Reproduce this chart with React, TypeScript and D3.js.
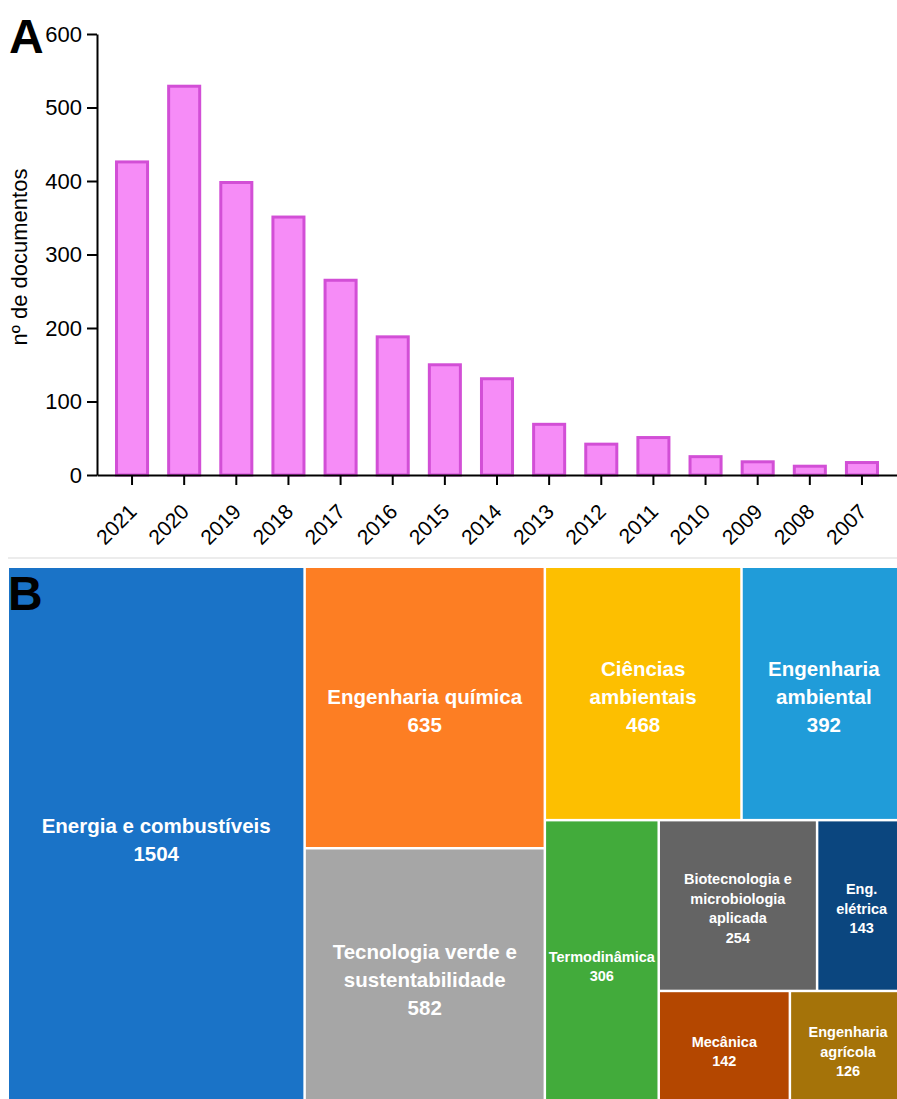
import React, { useEffect, useRef } from "react";
import * as d3 from "d3";

// A: documents per year
const years = ["2021", "2020", "2019", "2018", "2017", "2016", "2015", "2014", "2013", "2012", "2011", "2010", "2009", "2008", "2007"];
const docCounts = [428, 531, 400, 353, 267, 190, 152, 133, 71, 44, 53, 27, 20, 14, 19];
const yTicks = [0, 100, 200, 300, 400, 500, 600];

// B: documents per subject area
const areaNames = [
  "Energia e combustíveis",
  "Engenharia química",
  "Tecnologia verde e sustentabilidade",
  "Ciências ambientais",
  "Engenharia ambiental",
  "Termodinâmica",
  "Biotecnologia e microbiologia aplicada",
  "Eng. elétrica",
  "Mecânica",
  "Engenharia agrícola",
];
const areaDocs = [1504, 635, 582, 468, 392, 306, 254, 143, 142, 126];
const areaLabelLines = [
  ["Energia e combustíveis"],
  ["Engenharia química"],
  ["Tecnologia verde e", "sustentabilidade"],
  ["Ciências", "ambientais"],
  ["Engenharia", "ambiental"],
  ["Termodinâmica"],
  ["Biotecnologia e", "microbiologia", "aplicada"],
  ["Eng.", "elétrica"],
  ["Mecânica"],
  ["Engenharia", "agrícola"],
];
const areaColors = ["#1a73c7", "#fd7e23", "#a6a6a6", "#fdbf00", "#209cd9", "#42ab3b", "#646464", "#0b467f", "#b44700", "#a57309"];
// how the blocks are nested (indexes into areaNames)
const areaGroups: any = [0, [1, 2], [[3, 4], [5, [[6, 7], [8, 9]]]]];

const App = () => {
  const svgRef = useRef<SVGSVGElement>(null);

  useEffect(() => {
    const svg = d3.select(svgRef.current);
    svg.selectAll("*").remove();
    const font = "'Liberation Sans', Arial, Helvetica, sans-serif";

    // ---- A: bar chart
    const x = d3.scaleBand().domain(years).range([97, 897]).paddingInner(0.347).paddingOuter(0.3455);
    const y = d3.scaleLinear().domain([0, 600]).range([475, 34]);

    svg
      .append("g")
      .selectAll("rect")
      .data(years)
      .join("rect")
      .attr("x", (d) => (x(d) as number) + 1.5)
      .attr("y", (d, i) => y(docCounts[i]) + 1.5)
      .attr("width", x.bandwidth() - 3)
      .attr("height", (d, i) => y(0) - y(docCounts[i]) - 1.5)
      .attr("fill", "#f68cf7")
      .attr("stroke", "#d24fd6")
      .attr("stroke-width", 3);

    const yAxis = svg
      .append("g")
      .attr("transform", "translate(97,0)")
      .call(d3.axisLeft(y).tickValues(yTicks).tickSize(10).tickSizeOuter(0).tickPadding(5))
      .attr("font-size", 22)
      .attr("font-family", font);
    yAxis.select(".domain").attr("stroke-width", 2);
    yAxis.selectAll(".tick line").attr("stroke-width", 2);
    yAxis.selectAll("text").attr("fill", "#000");

    const xAxis = svg
      .append("g")
      .attr("transform", "translate(0,475)")
      .call(d3.axisBottom(x).tickSize(10).tickSizeOuter(0))
      .attr("font-size", 21)
      .attr("font-family", font);
    xAxis.select(".domain").attr("stroke-width", 2);
    xAxis.selectAll(".tick line").attr("stroke-width", 2);
    xAxis
      .selectAll("text")
      .attr("fill", "#000")
      .attr("x", 0)
      .attr("y", 0)
      .attr("dy", 0)
      .attr("text-anchor", "end")
      .attr("transform", "translate(6,38) rotate(-45)");

    svg
      .append("text")
      .attr("transform", "translate(27,257) rotate(-90)")
      .attr("text-anchor", "middle")
      .attr("font-family", font)
      .attr("font-size", 22)
      .text("nº de documentos");

    svg
      .append("text")
      .attr("x", 9)
      .attr("y", 53)
      .attr("font-family", font)
      .attr("font-weight", "bold")
      .attr("font-size", 48)
      .text("A");

    // separator between panels
    svg.append("line").attr("x1", 8).attr("x2", 897).attr("y1", 558).attr("y2", 558).attr("stroke", "#ececec").attr("stroke-width", 2);

    // ---- B: treemap
    const toNode = (g: any): any =>
      Array.isArray(g) ? { children: g.map(toNode) } : { index: g, value: areaDocs[g] };
    const root = d3.hierarchy(toNode(areaGroups)).sum((d: any) => d.value ?? 0);
    d3
      .treemap()
      .tile((node: any, x0: number, y0: number, x1: number, y1: number) =>
        (node.depth % 2 === 0 ? d3.treemapDice : d3.treemapSlice)(node, x0, y0, x1, y1)
      )
      .size([896, 537])
      .paddingInner(2.5)(root as any);

    const tm = svg.append("g").attr("transform", "translate(9,568)");
    const leaves: any[] = root.leaves();

    tm.selectAll("rect")
      .data(leaves)
      .join("rect")
      .attr("x", (d) => d.x0)
      .attr("y", (d) => d.y0)
      .attr("width", (d) => d.x1 - d.x0)
      .attr("height", (d) => d.y1 - d.y0)
      .attr("fill", (d) => areaColors[d.data.index]);

    leaves.forEach((d) => {
      const i = d.data.index;
      const lines = [...areaLabelLines[i], String(areaDocs[i])];
      const big = areaDocs[i] >= 380;
      const fs = big ? 20.5 : 14.5;
      const lh = big ? 28 : 19.5;
      const cx = (d.x0 + d.x1) / 2;
      const cy = (d.y0 + d.y1) / 2 + 3;
      const t = tm
        .append("text")
        .attr("text-anchor", "middle")
        .attr("font-family", font)
        .attr("font-weight", "bold")
        .attr("font-size", fs)
        .attr("fill", "#fff")
        .attr("aria-label", areaNames[i]);
      lines.forEach((line, j) => {
        t.append("tspan")
          .attr("x", cx)
          .attr("y", cy + (j - (lines.length - 1) / 2) * lh)
          .attr("dy", "0.35em")
          .text(line);
      });
    });

    svg
      .append("text")
      .attr("x", 8)
      .attr("y", 610)
      .attr("font-family", font)
      .attr("font-weight", "bold")
      .attr("font-size", 48)
      .text("B");
  }, []);

  return (
    <svg
      ref={svgRef}
      width={897}
      height={1099}
      style={{ position: "absolute", left: 0, top: 0, background: "#fff" }}
    ></svg>
  );
};

export default App;
